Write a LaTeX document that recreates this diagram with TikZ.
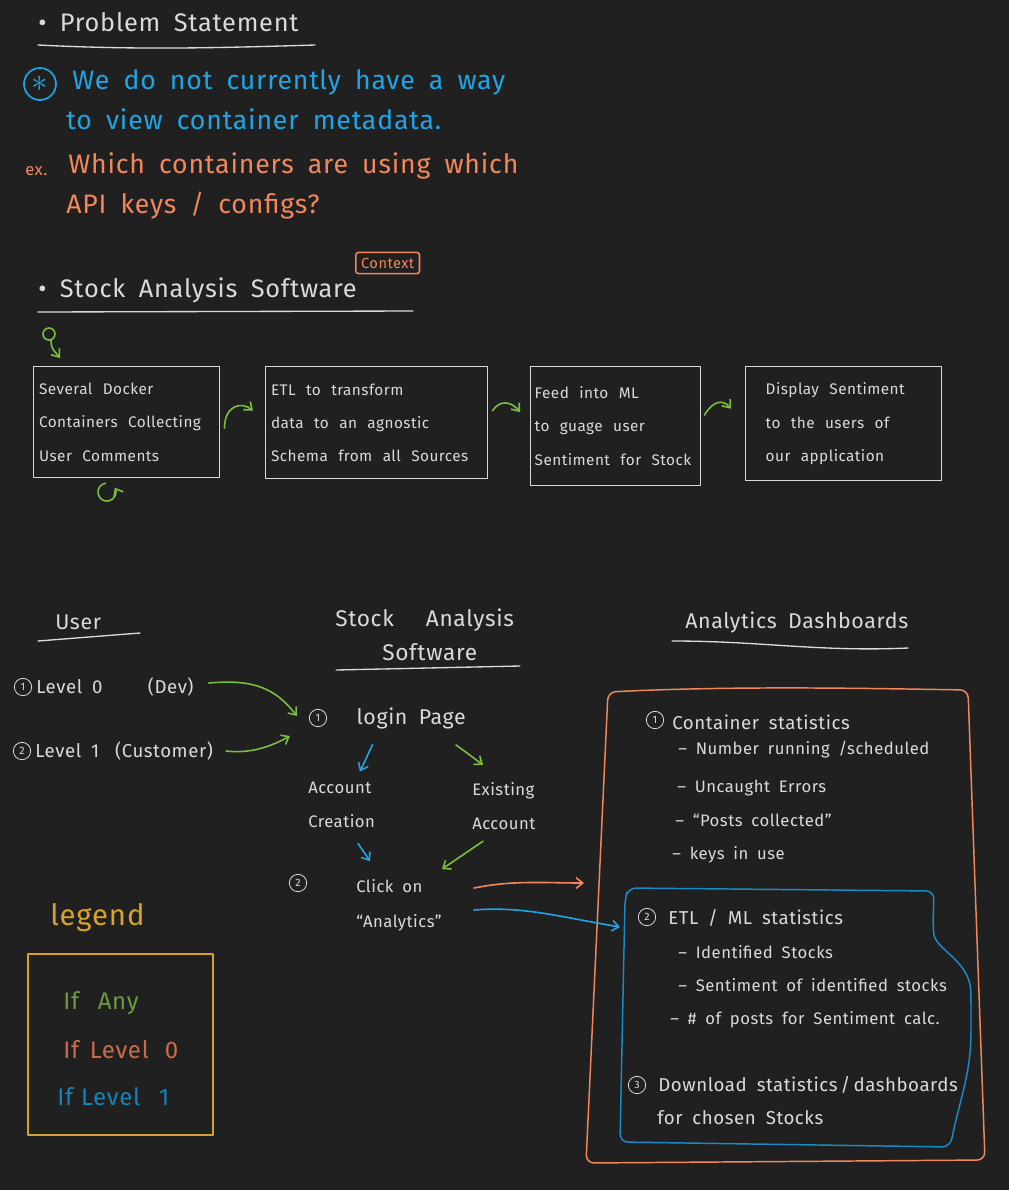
\documentclass[tikz,border=0pt]{standalone}
\usepackage{fontspec}
\setmainfont{Fira Sans}[LetterSpace=3,WordSpace=1.8]
\usetikzlibrary{arrows.meta,positioning}
\definecolor{board}{HTML}{202020}
\definecolor{chalk}{HTML}{DADADA}
\definecolor{sky}{HTML}{1FA5E3}
\definecolor{seablue}{HTML}{1A8BC6}
\definecolor{peach}{HTML}{F3875C}
\definecolor{leaf}{HTML}{7BBE3E}
\definecolor{gold}{HTML}{D6A32A}
\definecolor{olive}{HTML}{6C9A3C}
\definecolor{rust}{HTML}{CC6B4C}
\definecolor{deepsky}{HTML}{1583B8}
\newcommand{\hsz}[1]{\fontsize{#1}{#1}\selectfont}
\newcommand{\widegap}{\spaceskip=0.68em plus 0.1em\relax}

\begin{document}
\begin{tikzpicture}[x=0.75pt,y=-0.75pt,line cap=round,line join=round,
  every node/.style={inner sep=0pt,anchor=west,text=chalk},
  head/.style={font=\hsz{19}},
  big/.style={font=\hsz{20}},
  sec/.style={font=\hsz{16}},
  sub/.style={font=\hsz{14}},
  body/.style={font=\hsz{12.5}},
  pair/.style={align=left,font=\fontsize{12.5}{26}\selectfont},
  num/.style={circle,draw=chalk,line width=0.6pt,minimum size=13pt,font=\hsz{8},anchor=center},
  card/.style={draw=chalk,line width=1.1pt,anchor=north west,align=left,font=\fontsize{11.5}{25}\selectfont},
  uline/.style={draw=chalk,line width=1pt},
  barb/.style={-{Straight Barb[length=5pt,width=8pt]},line width=1.2pt},
  garr/.style={barb,leaf},
  sarr/.style={barb,sky},
  parr/.style={barb,peach}]
\fill[board] (0,0) rectangle (1009,1190);

% problem statement
\node[head] (ps) at (38,22) {• Problem Statement};
\draw[uline] ([shift={(0,23)}]ps.west) .. controls +(100,5) and +(-100,3) .. ([shift={(277,23)}]ps.west);
\node[draw=sky,circle,minimum size=24pt,line width=1.3pt,text=sky,font=\hsz{26},anchor=center] (star) at (40,84) {$\ast$};
\node[big,text=sky] (w1) at (72,82) {We do not currently have a way};
\node[big,text=sky] (w2) at (66,119) {to view container metadata.};
\node[body,text=peach] (ex) at (25,171) {ex.};
\node[big,text=peach] (e1) at (68,166) {Which containers are using which};
\node[big,text=peach] (e2) at (66,206) {API keys / configs?};

% pipeline
\node[draw=peach,rounded corners=2pt,line width=1.2pt,text=peach,font=\hsz{11},inner sep=4pt] (ctx) at (355,263) {Context};
\node[head] (sas) at (38,290) {• Stock Analysis Software};
\draw[uline] ([shift={(0,22)}]sas.west) -- ([shift={(375,21)}]sas.west);
\foreach \n/\x/\w/\h/\s/\t in {b1/33/139.5pt/83pt/4pt/{Several Docker\\Containers Collecting\\User Comments},
  b2/265/166.5pt/84pt/4pt/{ETL to transform\\data to an agnostic\\Schema from all Sources},
  b3/530/127.5pt/89pt/3pt/{Feed into ML\\to guage user\\Sentiment for Stock},
  b4/745/147pt/85.5pt/15pt/{Display Sentiment\\to the users of\\our application}}
  \node[card,minimum width=\w,minimum height=\h,inner xsep=\s,text width=\w-2*\s] (\n) at (\x,366) {\widegap\t};
\draw[garr] ([shift={(4,6)}]b1.east) .. controls +(0,-22) and +(-12,-10) .. ([shift={(-12,-12)}]b2.west);
\draw[garr] ([shift={(4,-12)}]b2.east) .. controls +(8,-12) and +(-8,-10) .. ([shift={(-10,-14)}]b3.west);
\draw[garr] ([shift={(3,-11)}]b3.east) .. controls +(8,-14) and +(-8,-10) .. ([shift={(-14,-15)}]b4.west);
\coordinate (seed) at ([shift={(16,-32)}]b1.north west);
\draw[leaf,line width=1.2pt] (seed) circle [radius=6];
\draw[garr] ([shift={(2,6)}]seed) .. controls +(0,10) and +(-6,-8) .. ([shift={(27,-8)}]b1.north west);
\coordinate (spin) at ([shift={(74,14)}]b1.south west);
\draw[garr] ([shift={(-1.6,-8.9)}]spin) arc[start angle=-100,end angle=-390,radius=9];

% headings
\node[sec] (usr) at (55,622) {User};
\draw[uline] ([shift={(-17,19)}]usr.west) -- ([shift={(85,11)}]usr.west);
\node[font=\hsz{17}] (sa1) at (335,620) {Stock\hspace{24pt}Analysis};
\node[font=\hsz{17}] (sa2) at (382,652) {Software};
\draw[uline] ([shift={(-46,18)}]sa2.west) -- ([shift={(138,14)}]sa2.west);
\node[sec] (ad) at (685,622) {Analytics Dashboards};
\draw[uline] ([shift={(-13,19)}]ad.west) .. controls +(90,0) and +(-90,4) .. ([shift={(223,26)}]ad.west);

% users and login flow
\node[num] (u1) at (23,687) {1};
\node[font=\hsz{14},right=3pt of u1] (lv0) {Level 0\hspace{34pt}(Dev)};
\node[num] (u2) at (22,751) {2};
\node[font=\hsz{14},right=3pt of u2] (lv1) {Level 1\hspace{12pt}(Customer)};
\node[num] (s1) at (318,718) {1};
\node[font=\hsz{16},right=22pt of s1] (login) {login Page};
\node[pair] (acc) at (308,805) {Account\\Creation};
\node[pair] (exi) at (472,806) {Existing\\Account};
\node[num] (s2) at (298,883) {2};
\node[pair] (click) at (356,905) {Click on\\“Analytics”};
\draw[garr] ([shift={(15,-4)}]lv0.east) .. controls +(45,-4) and +(-22,-28) .. ([shift={(-12,-2)}]s1.west);
\draw[garr] ([shift={(13,0)}]lv1.east) .. controls +(25,3) and +(-18,10) .. ([shift={(-19,18)}]s1.west);
\draw[sarr] ([shift={(16,16)}]login.south west) -- ([shift={(52,-10)}]acc.north west);
\draw[garr] ([shift={(-10,16)}]login.south east) -- ([shift={(11,-17)}]exi.north west);
\draw[sarr] ([shift={(50,15)}]acc.south west) -- ([shift={(14,-18)}]click.north west);
\draw[garr] ([shift={(11,11)}]exi.south west) -- ([shift={(0,-10)}]click.north east);

% dashboards
\draw[peach,line width=1.1pt,rounded corners=6pt] (608,692) .. controls (730,686) and (850,688) .. (968,690) -- (985,1160) -- (586,1163) -- cycle;
\draw[seablue,line width=1.1pt,rounded corners=6pt] (628,888) -- (934,891) -- (933,925) .. controls (935,950) and (970,960) .. (971,1000) -- (971,1040) .. controls (968,1080) and (960,1100) .. (950,1147) -- (620,1142) -- (625,900) -- cycle;
\coordinate (dashN) at (584,883);
\coordinate (etlW) at (620,927);
\draw[parr] ([shift={(32,-17)}]click.east) .. controls +(40,-8) and +(-40,0) .. (dashN);
\draw[sarr] ([shift={(32,5)}]click.east) .. controls +(50,-4) and +(-60,-10) .. (etlW);
\node[num] (d1) at (655,720) {1};
\node[sub] (cs) at (672,722) {Container statistics};
\node[body] (cs1) at (678,750) {– Number running /scheduled};
\node[body] (cs2) at (677,788) {– Uncaught Errors};
\node[body] (cs3) at (675,820) {– “Posts collected”};
\node[body] (cs4) at (672,855) {– keys in use};
\node[num] (d2) at (647,917) {2};
\node[sub] (es) at (668,918) {ETL / ML statistics};
\node[body] (es1) at (678,952) {– Identified Stocks};
\node[body] (es2) at (678,985) {– Sentiment of identified stocks};
\node[body] (es3) at (670,1020) {– \# of posts for Sentiment calc.};
\node[num] (d3) at (637,1085) {3};
\node[sub] (dl) at (658,1085) {Download statistics\,/\,dashboards};
\node[sub] (dl2) at (657,1118) {for chosen Stocks};

% legend
\node[font=\hsz{22},text=gold] (lgd) at (50,918) {legend};
\node[draw=gold,line width=1.2pt,minimum width=139pt,minimum height=136pt,anchor=north west] (key) at (27,953) {};
\node[font=\hsz{18},text=olive] (k1) at (63,1003) {If\hspace{14pt}Any};
\node[font=\hsz{18},text=rust] (k2) at (63,1050) {If\hspace{8pt}Level\hspace{12pt}0};
\node[font=\hsz{18},text=deepsky] (k3) at (57,1097) {If\hspace{6pt}Level\hspace{14pt}1};
\end{tikzpicture}
\end{document}
